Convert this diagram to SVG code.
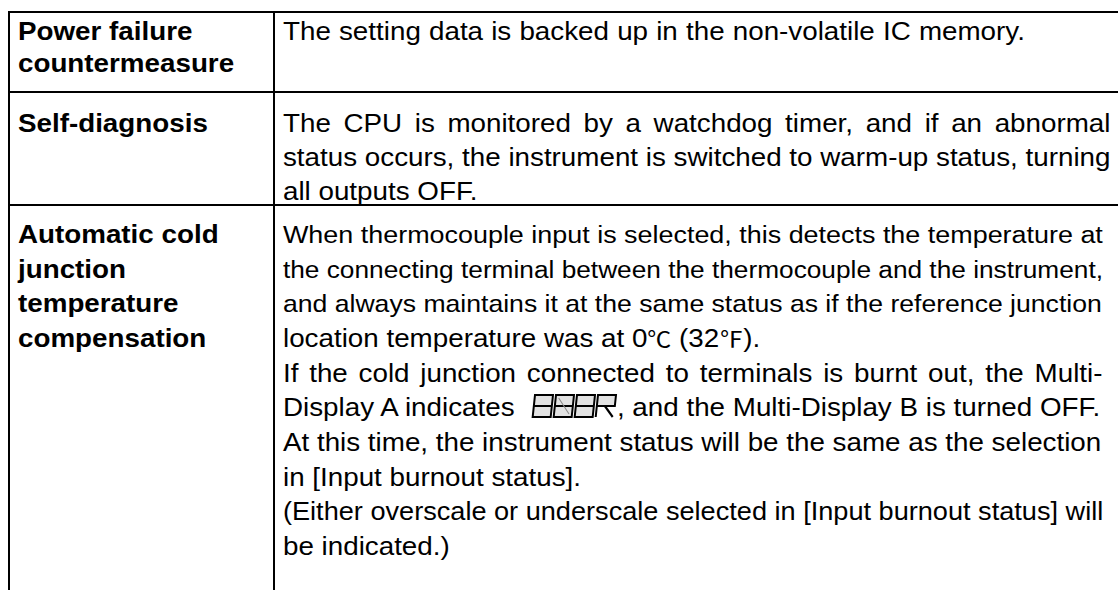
<svg xmlns="http://www.w3.org/2000/svg" width="1118" height="590" viewBox="0 0 1118 590">
<style>
.t{font-family:"Liberation Sans",Arial,sans-serif;font-size:25.5px;fill:#000}
.b{font-weight:bold}
.c{font-family:"Noto Sans CJK JP","Liberation Sans",sans-serif;font-size:22px}
.ln{stroke:#000;stroke-width:2;fill:none}
.seg{fill:#e2e2e2;stroke:#000;stroke-width:2}
</style>
<rect width="1118" height="590" fill="#fff"/>
<g id="grid">
<line class="ln" x1="9" y1="12" x2="1118" y2="12"/>
<line class="ln" x1="9" y1="92" x2="1118" y2="92"/>
<line class="ln" x1="9" y1="205" x2="1118" y2="205"/>
<line class="ln" x1="9" y1="11" x2="9" y2="590"/>
<line class="ln" x1="274" y1="11" x2="274" y2="590"/>
</g>
<g transform="scale(1.09 1)">
<g id="row1">
<text class="t b" x="16.5" y="40">Power failure</text>
<text class="t b" x="16.5" y="72">countermeasure</text>
<text class="t" x="259.6" y="40" word-spacing="0.4">The setting data is backed up in the non-volatile IC memory.</text>
</g>
<g id="row2">
<text class="t b" x="16.5" y="132">Self-diagnosis</text>
<text class="t" x="259.6" y="132" word-spacing="4.5">The CPU is monitored by a watchdog timer, and if an abnormal</text>
<text class="t" x="259.6" y="166">status occurs, the instrument is switched to warm-up status, turning</text>
<text class="t" x="259.6" y="200">all outputs OFF.</text>
</g>
<g id="row3">
<text class="t b" x="16.5" y="243">Automatic cold</text>
<text class="t b" x="16.5" y="278">junction</text>
<text class="t b" x="16.5" y="312">temperature</text>
<text class="t b" x="16.5" y="347">compensation</text>
<text class="t" x="259.6" y="243" style="font-size:24.7px">When thermocouple input is selected, this detects the temperature at</text>
<text class="t" x="259.6" y="278" style="font-size:24.1px">the connecting terminal between the thermocouple and the instrument,</text>
<text class="t" x="259.6" y="312" style="font-size:24.4px">and always maintains it at the same status as if the reference junction</text>
<text class="t" x="259.6" y="347">location temperature was at 0<tspan class="c">℃</tspan> (32<tspan class="c">℉</tspan>).</text>
<text class="t" x="259.6" y="382" word-spacing="2.8">If the cold junction connected to terminals is burnt out, the Multi-</text>
<text class="t" x="259.6" y="416">Display A indicates</text>
<text class="t" x="566" y="416">, and the Multi-Display B is turned OFF.</text>
<text class="t" x="259.6" y="451">At this time, the instrument status will be the same as the selection</text>
<text class="t" x="259.6" y="486">in [Input burnout status].</text>
<text class="t" x="259.6" y="520" style="font-size:24.9px">(Either overscale or underscale selected in [Input burnout status] will</text>
<text class="t" x="259.6" y="555">be indicated.)</text>
</g>
</g>
<g id="display" transform="translate(535 395) skewX(-6)">
<g>
<rect class="seg" x="0" y="0" width="18" height="22"/>
<line class="ln" x1="0" y1="11" x2="18" y2="11"/>
</g>
<g transform="translate(21 0)">
<rect class="seg" x="0" y="0" width="18" height="22"/>
<line class="ln" x1="0" y1="11" x2="18" y2="11"/>
<line x1="3" y1="3" x2="15" y2="19" stroke="#888" stroke-width="1"/>
</g>
<g transform="translate(42 0)">
<rect class="seg" x="0" y="0" width="18" height="22"/>
<line class="ln" x1="0" y1="11" x2="18" y2="11"/>
</g>
<g transform="translate(63 0)">
<path class="seg" d="M0 22 V0 H18 V11 H0"/>
<line class="ln" x1="8" y1="11" x2="17" y2="22"/>
</g>
</g>
</svg>
